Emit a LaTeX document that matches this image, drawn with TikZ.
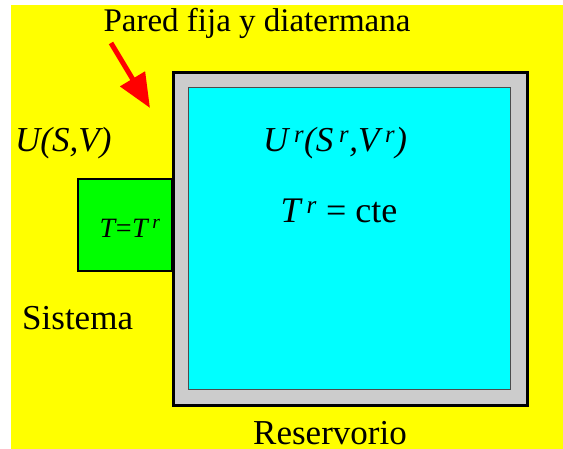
\documentclass[tikz,border=0pt]{standalone}
\usepackage{fontspec}
\setmainfont{Liberation Serif}
\usetikzlibrary{arrows.meta,positioning}

\definecolor{fondo}{RGB}{255,255,0}
\definecolor{agua}{RGB}{0,255,255}
\definecolor{pared}{RGB}{204,204,204}
\definecolor{verde}{RGB}{0,255,0}

\begin{document}
\begin{tikzpicture}[x=1pt, y=1pt]
    \useasboundingbox (0,0) rectangle (563,449);
    \fill[fondo] (11,0) rectangle (563,444);
    \node (sistema) [draw, fill=verde, line width=2.5pt, minimum width=94pt, minimum height=92pt, inner sep=0pt] at (125,224) {};
    \node (wall) [draw, fill=pared, line width=3pt, minimum width=354pt, minimum height=333pt, inner sep=0pt] at (350.5,210) {};
    \node (bano) [draw=black!70, fill=agua, line width=1pt, minimum width=322pt, minimum height=302pt, inner sep=0pt] at (349,210) {};
    \node (pared) [anchor=base, font=\fontsize{33}{36}\selectfont] at (257,417) {Pared fija y diatermana};
    \node (usv) [anchor=base west, inner sep=0pt, font=\fontsize{35}{40}\selectfont] at (15,297) {\textit{U(S,V)}};
    \node (teq) [anchor=base, font=\fontsize{28}{30}\selectfont] at (130,211) {\textit{T\kern-1pt=\kern-1pt T\,\textsuperscript{r}}};
    \node (sis) [anchor=base west, inner sep=0pt, font=\fontsize{35}{40}\selectfont] at (22,119) {Sistema};
    \node (ur) [anchor=base, font=\fontsize{35}{40}\selectfont] at (335,297) {\textit{U\,\textsuperscript{r}(S\,\textsuperscript{r},V\,\textsuperscript{r})}};
    \node (tr) [anchor=base, font=\fontsize{36}{40}\selectfont] at (339,226) {\textit{T\,\textsuperscript{r}} = cte};
    \node (res) [anchor=base, inner sep=0pt, font=\fontsize{35}{40}\selectfont] at (330,4) {Reservorio};
    % flecha hacia la pared
    \coordinate (cola) at (111,406);
    \coordinate (punta) at (150,341);
    \draw[red, line width=5pt, -{Triangle[length=34pt, width=28pt]}] (cola) -- (punta);
\end{tikzpicture}
\end{document}
